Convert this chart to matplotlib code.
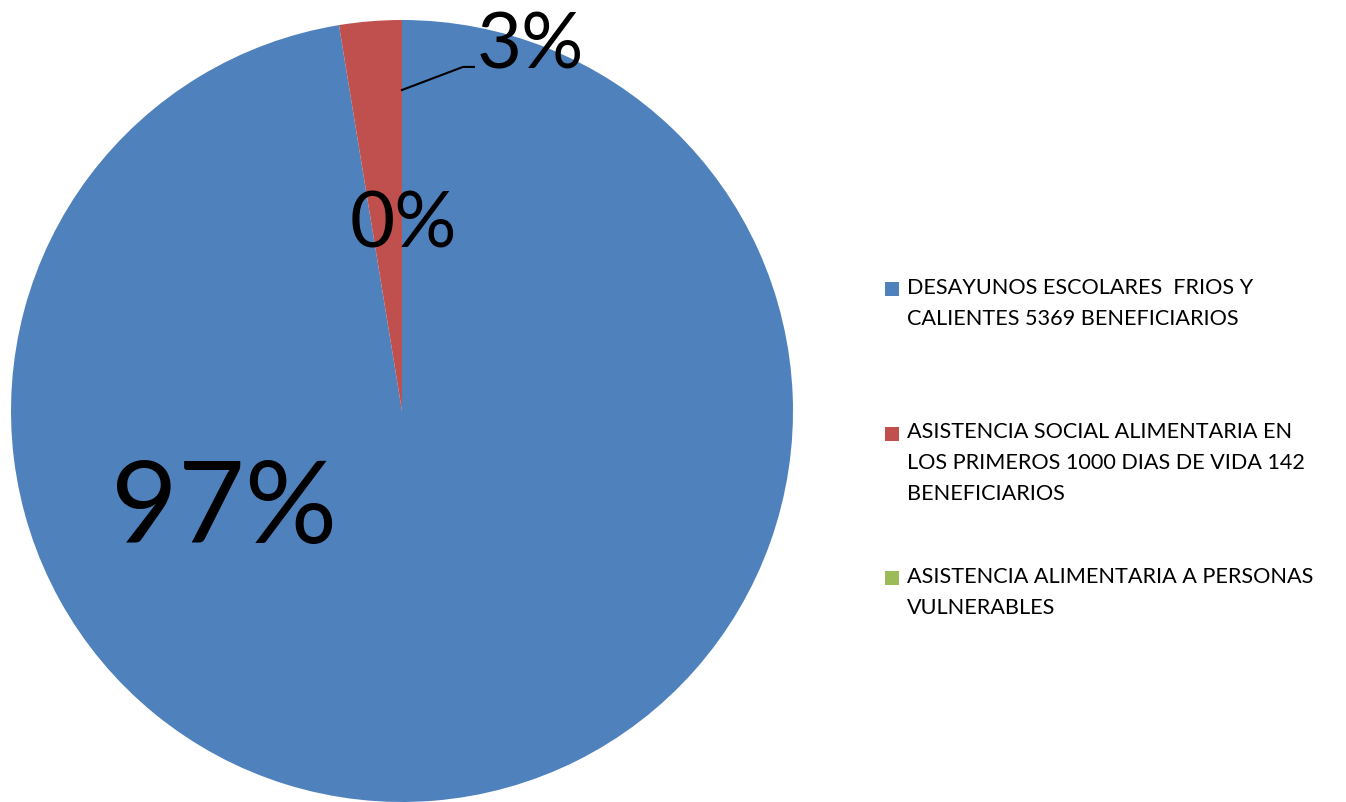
import matplotlib.pyplot as plt
from matplotlib.patches import Rectangle

# datos del grafico
programas = [
    "DESAYUNOS ESCOLARES  FRIOS Y\nCALIENTES 5369 BENEFICIARIOS",
    "ASISTENCIA SOCIAL ALIMENTARIA EN\nLOS PRIMEROS 1000 DIAS DE VIDA 142\nBENEFICIARIOS",
    "ASISTENCIA ALIMENTARIA A PERSONAS\nVULNERABLES",
]
beneficiarios = [5369, 142, 0]
porcentajes = ["97%", "3%", "0%"]
colores = ["#4F81BD", "#C0504D", "#9BBB59"]

plt.rcParams["font.family"] = ["Lato", "DejaVu Sans"]

W, H = 1346, 802
fig = plt.figure(figsize=(W / 100, H / 100), dpi=100)

# eje del pastel: centro (402, 411) px, radio 391 px
cx, cy, r = 402, 411, 391
ax = fig.add_axes([(cx - r) / W, (H - cy - r) / H, 2 * r / W, 2 * r / H])
ax.pie(beneficiarios, colors=colores, startangle=90, counterclock=False,
       radius=1, wedgeprops=dict(linewidth=0))
ax.set_xlim(-1, 1)
ax.set_ylim(-1, 1)
ax.axis("off")

# etiquetas de porcentaje
ax.text(-0.455, -0.338, porcentajes[0], fontsize=83, ha="center", va="baseline")
ax.text(0.327, 0.877, porcentajes[1], fontsize=56, ha="center", va="baseline")
ax.text(0.003, 0.417, porcentajes[2], fontsize=56, ha="center", va="baseline")
# linea guia del 3%
ax.plot([0.0, 0.156, 0.184], [0.821, 0.880, 0.880], color="black", lw=1.5,
        clip_on=False)

# leyenda manual (entradas espaciadas de forma uniforme, como en Excel)
tr = fig.transFigure
for i, (lab, col) in enumerate(zip(programas, colores)):
    top = 282 + i * 144.5
    fig.patches.append(Rectangle((885 / W, 1 - (top + 14) / H), 14 / W, 14 / H,
                                 transform=tr, facecolor=col, edgecolor="none"))
    fig.text(907 / W, 1 - (top - 4) / H, lab, fontsize=15.6, va="top", ha="left",
             linespacing=1.66, transform=tr)

fig.savefig("out.png", dpi=100)
